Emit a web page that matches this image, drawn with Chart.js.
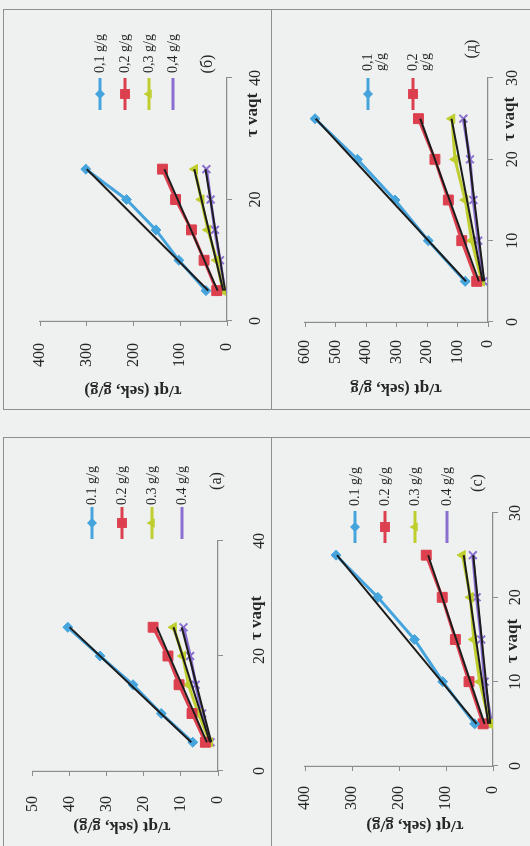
<!DOCTYPE html>
<html>
<head>
<meta charset="utf-8">
<script src="https://cdn.jsdelivr.net/npm/chart.js@4.4.1/dist/chart.umd.min.js"></script>
<style>
  html, body { margin: 0; padding: 0; background: #eff1f0; }
  body { width: 530px; height: 846px; position: relative; overflow: hidden; }
  .frame { position: absolute; border: 1.5px solid #8e9090; box-sizing: border-box; }
  canvas.rot { position: absolute; transform-origin: 0 0; transform: rotate(-90deg); }
</style>
</head>
<body>
<script>
// vaqt (sek) - hamma panellarda bir xil
const TIME = [5, 10, 15, 20, 25];
const FIT_TIME = [5, 25];

const NAMES_COMMA = ['0,1 g/g', '0,2 g/g', '0,3 g/g', '0,4 g/g'];
const NAMES_DOT = ['0.1 g/g', '0.2 g/g', '0.3 g/g', '0.4 g/g'];

// (б)
const B_01 = [45, 103, 152, 215, 302];
const B_02 = [22, 49, 76, 110, 138];
const B_03 = [9, 22, 41, 55, 69];
const B_04 = [5, 15, 26, 35, 44];
const B_FIT = [[40, 300], [20, 134], [8, 70], [4, 46]];

// (д)
const D_01 = [75, 196, 305, 428, 567];
const D_02 = [37, 86, 130, 174, 228];
const D_03 = [21, 53, 75, 108, 118];
const D_04 = [15, 32, 48, 59, 81];
const D_FIT = [[72, 565], [30, 222], [18, 120], [12, 78]];

// (а)
const A_01 = [6.8, 15.3, 22.9, 31.8, 40.5];
const A_02 = [3.4, 7, 10.5, 13.5, 17.5];
const A_03 = [2.2, 5.3, 8, 9.5, 12];
const A_04 = [2, 4.3, 6, 7.5, 9.3];
const A_FIT = [[7.2, 40], [3, 16.5], [2.2, 12], [1.8, 9.8]];

// (с)
const C_01 = [39, 107, 167, 245, 334];
const C_02 = [21, 51, 80, 108, 142];
const C_03 = [7, 28, 41, 48, 65];
const C_04 = [3, 18, 25, 35, 43];
const C_FIT = [[35, 332], [18, 138], [10, 62], [6, 42]];

const SERIF = "'Liberation Serif', 'Times New Roman', serif";
const INK = '#262626';
const AXIS = '#8c8c8c';
const STYLES = [
  { color: '#46a4dd', point: 'rectRot', r: 5 },
  { color: '#dc3f4e', point: 'rect', r: 7 },
  { color: '#bfce2e', point: 'triangle', r: 5.5 },
  { color: '#8a6fd0', point: 'crossRot', r: 5.5 }
];

// legenda, sarlavhalar va panel belgisi (burilmagan koordinatalarda)
const deco = {
  id: 'deco',
  afterDraw(chart, args, o) {
    const ctx = chart.ctx;
    ctx.save();
    ctx.fillStyle = INK;
    ctx.textBaseline = 'middle';

    // legenda
    o.legend.rows.forEach((v, i) => {
      const st = STYLES[i];
      ctx.strokeStyle = st.color;
      ctx.lineWidth = 3;
      ctx.beginPath();
      ctx.moveTo(o.legend.markU - 16, v);
      ctx.lineTo(o.legend.markU + 16, v);
      ctx.stroke();
      ctx.fillStyle = st.color;
      ctx.lineWidth = st.point === 'crossRot' ? 2 : 1;
      Chart.helpers.drawPoint(ctx, { pointStyle: st.point, radius: st.r, rotation: 0 }, o.legend.markU, v);
      ctx.fillStyle = INK;
      ctx.font = '14px ' + SERIF;
      ctx.textAlign = 'left';
      const parts = o.legend.wrap ? o.names[i].split(' ') : [o.names[i]];
      parts.forEach((p, k) => ctx.fillText(p, o.legend.textU, v + k * 13));
    });

    // panel belgisi
    ctx.font = '16px ' + SERIF;
    ctx.textAlign = 'center';
    ctx.fillText(o.tag.text, o.tag.u, o.tag.v);

    // x sarlavha
    ctx.font = 'bold 17px ' + SERIF;
    ctx.fillText(o.xTitle.text, o.xTitle.u, o.xTitle.v);

    // y sarlavha
    ctx.translate(o.yTitle.u, o.yTitle.v);
    ctx.rotate(-Math.PI / 2);
    ctx.fillText(o.yTitle.text, 0, 0);
    ctx.restore();
  }
};

function makePanel(cfg) {
  const box = cfg.box;
  const W = box.h, H = box.w;
  const a = cfg.area;

  const fr = document.createElement('div');
  fr.className = 'frame';
  fr.style.left = box.x + 'px';
  fr.style.top = box.y + 'px';
  fr.style.width = (box.w + 1) + 'px';
  fr.style.height = (box.h + 1) + 'px';
  document.body.appendChild(fr);

  const cv = document.createElement('canvas');
  cv.className = 'rot';
  cv.width = W;
  cv.height = H;
  cv.style.left = box.x + 'px';
  cv.style.top = (box.y + box.h) + 'px';
  document.body.appendChild(cv);

  const datasets = [];
  cfg.series.forEach((vals, i) => {
    const st = STYLES[i];
    datasets.push({
      data: TIME.map((t, k) => ({ x: t, y: vals[k] })),
      showLine: true,
      borderColor: st.color,
      backgroundColor: st.color,
      borderWidth: 3,
      pointStyle: st.point,
      pointRadius: st.r,
      pointBorderWidth: st.point === 'crossRot' ? 2 : 1,
      order: 2
    });
  });
  cfg.fits.forEach(f => {
    datasets.push({
      data: FIT_TIME.map((t, k) => ({ x: t, y: f[k] })),
      showLine: true,
      borderColor: '#1c1c1c',
      borderWidth: 2,
      pointRadius: 0,
      order: 1
    });
  });

  new Chart(cv, {
    type: 'scatter',
    data: { datasets },
    options: {
      responsive: false,
      animation: false,
      devicePixelRatio: 1,
      layout: { padding: { left: 0, top: a.top, right: W - a.right, bottom: 0 } },
      plugins: {
        legend: { display: false },
        tooltip: { enabled: false },
        deco: cfg.deco
      },
      scales: {
        x: {
          type: 'linear', min: 0, max: cfg.xMax,
          afterFit: s => { s.height = H - a.bottom; },
          ticks: { stepSize: cfg.xStep, maxRotation: 0, padding: cfg.xPad, color: INK, font: { family: SERIF, size: 16 } },
          grid: { drawOnChartArea: false, tickLength: 5, color: AXIS },
          border: { color: AXIS, width: 1.2 }
        },
        y: {
          min: 0, max: cfg.yMax,
          afterFit: s => { s.width = a.left; },
          ticks: { stepSize: cfg.yStep, padding: cfg.yPad, color: INK, font: { family: SERIF, size: 16 } },
          grid: { drawOnChartArea: false, tickLength: 5, color: AXIS },
          border: { color: AXIS, width: 1.2 }
        }
      }
    },
    plugins: [deco]
  });
}

makePanel({
  box: { x: 3, y: 9, w: 268, h: 400 },
  area: { left: 88, right: 331, top: 37, bottom: 224 },
  xMax: 40, xStep: 20, yMax: 400, yStep: 100, xPad: 14, yPad: 17,
  series: [B_01, B_02, B_03, B_04], fits: B_FIT,
  deco: {
    names: NAMES_COMMA,
    legend: { rows: [97, 122, 146, 170], markU: 315, textU: 336, wrap: false },
    tag: { text: '(б)', u: 345, v: 205 },
    xTitle: { text: 'τ vaqt', u: 294, v: 250 },
    yTitle: { text: 'τ/qt (sek, g/g)', u: 19, v: 130 }
  }
});

makePanel({
  box: { x: 271, y: 9, w: 268, h: 400 },
  area: { left: 87, right: 331, top: 34, bottom: 217 },
  xMax: 30, xStep: 10, yMax: 600, yStep: 100, xPad: 10, yPad: 13,
  series: [D_01, D_02, D_03, D_04], fits: D_FIT,
  deco: {
    names: NAMES_COMMA.slice(0, 2),
    legend: { rows: [97, 142], markU: 315, textU: 338, wrap: true },
    tag: { text: '(д)', u: 360, v: 201 },
    xTitle: { text: 'τ vaqt', u: 290, v: 239 },
    yTitle: { text: 'τ/qt (sek, g/g', u: 21, v: 125 }
  }
});

makePanel({
  box: { x: 3, y: 437, w: 268, h: 411 },
  area: { left: 77, right: 307, top: 19, bottom: 215 },
  xMax: 40, xStep: 20, yMax: 50, yStep: 10, xPad: 27, yPad: 20,
  series: [A_01, A_02, A_03, A_04], fits: A_FIT,
  deco: {
    names: NAMES_DOT,
    legend: { rows: [89, 119, 149, 179], markU: 325, textU: 343, wrap: false },
    tag: { text: '(а)', u: 367, v: 214 },
    xTitle: { text: 'τ vaqt', u: 230, v: 254 },
    yTitle: { text: 'τ/qt (sek, g/g)', u: 22, v: 119 }
  }
});

makePanel({
  box: { x: 271, y: 437, w: 268, h: 411 },
  area: { left: 82, right: 335, top: 34, bottom: 222 },
  xMax: 30, xStep: 10, yMax: 400, yStep: 100, xPad: 8, yPad: 15,
  series: [C_01, C_02, C_03, C_04], fits: C_FIT,
  deco: {
    names: NAMES_DOT,
    legend: { rows: [84, 114, 144, 176], markU: 321, textU: 342, wrap: false },
    tag: { text: '(с)', u: 365, v: 207 },
    xTitle: { text: 'τ vaqt', u: 207, v: 242 },
    yTitle: { text: 'τ/qt (sek, g/g)', u: 23, v: 144 }
  }
});
</script>
</body>
</html>
